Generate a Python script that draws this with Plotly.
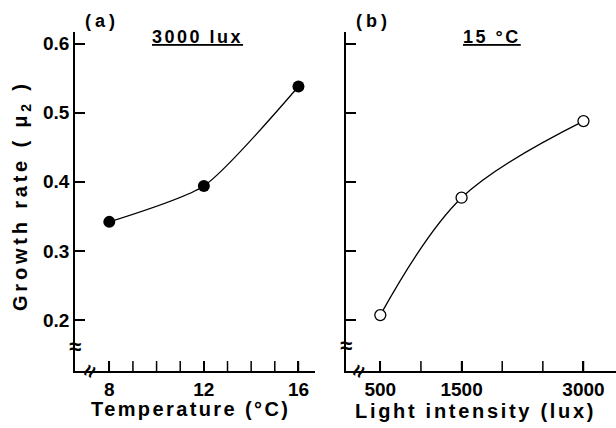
import plotly.graph_objects as go

# ---- data ----
temp_c = [8, 12, 16]
growth_temp = [0.342, 0.394, 0.538]
light_lux = [500, 1500, 3000]
growth_light = [0.207, 0.377, 0.488]

y_ticks = [0.2, 0.3, 0.4, 0.5, 0.6]
y_ticklabels = ["0.2", "0.3", "0.4", "0.5", "0.6"]
temp_ticks = [8, 9, 10, 11, 12, 13, 14, 15, 16]
temp_labelled = [8, 12, 16]
lux_ticks = [500, 1000, 1500, 2000, 2500, 3000]
lux_labelled = [500, 1500, 3000]

W, H = 616, 428
def px(x):
    return x / W
def py(y):
    return 1 - y / H

FONT = "Liberation Sans"
TICKLEN = 10
PLOT_H = 371 - 32

fig = go.Figure()
fig.add_trace(go.Scatter(
    x=temp_c, y=growth_temp, mode="lines+markers",
    line=dict(shape="spline", smoothing=0.6, color="black", width=1.3),
    marker=dict(size=12, color="black", symbol="circle"),
    xaxis="x", yaxis="y", showlegend=False))
fig.add_trace(go.Scatter(
    x=light_lux, y=growth_light, mode="lines+markers",
    line=dict(shape="spline", smoothing=1.0, color="black", width=1.3),
    marker=dict(size=11, color="white", symbol="circle",
                line=dict(color="black", width=1.3)),
    xaxis="x2", yaxis="y2", showlegend=False))

axis_common = dict(showline=True, linecolor="black", linewidth=1.8,
                   ticks="inside", ticklen=TICKLEN, tickwidth=1.5, tickcolor="black",
                   showgrid=False, zeroline=False,
                   tickfont=dict(family=FONT, size=19, color="black", weight="bold"))
ydom = [py(371), py(32)]
fig.update_layout(
    width=W, height=H,
    margin=dict(l=0, r=0, t=0, b=0),
    paper_bgcolor="white", plot_bgcolor="white",
    xaxis=dict(domain=[px(75), px(315)], range=[6.55, 16.7], anchor="y",
               tickmode="array", tickvals=temp_labelled,
               **axis_common),
    yaxis=dict(domain=ydom, range=[0.126, 0.617], anchor="x",
               tickmode="array", tickvals=y_ticks, ticktext=y_ticklabels,
               **axis_common),
    xaxis2=dict(domain=[px(346), 1.0], range=[78, 3400], anchor="y2",
                tickmode="array", tickvals=lux_labelled,
                **axis_common),
    yaxis2=dict(domain=ydom, range=[0.126, 0.617], anchor="x2",
                tickmode="array", tickvals=y_ticks, showticklabels=False,
                **axis_common),
)

# x tick marks (every degree / every 500 lux), placed on the axis scale
for v in temp_ticks:
    fig.add_shape(type="line", xref="x", yref="y domain", x0=v, x1=v,
                  y0=0, y1=TICKLEN / PLOT_H, line=dict(color="black", width=1.5))
for v in lux_ticks:
    fig.add_shape(type="line", xref="x2", yref="y2 domain", x0=v, x1=v,
                  y0=0, y1=TICKLEN / PLOT_H, line=dict(color="black", width=1.5))

def sp(text, ls):
    return f'<span style="letter-spacing:{ls}px">{text}</span>'

def ann(x, y, text, size, ls=0, angle=0):
    t = sp(text, ls) if ls else text
    fig.add_annotation(x=px(x), y=py(y), xref="paper", yref="paper",
                       text=t, showarrow=False, textangle=angle,
                       xanchor="center", yanchor="middle",
                       font=dict(family=FONT, size=size, color="black", weight="bold"))

ann(102, 21, "(a)", 18, 4)
ann(197, 37, "<u>3000 lux</u>", 18, 2.5)
ann(374, 21, "(b)", 18, 4)
ann(492, 37, "<u>15 °C</u>", 18, 2.5)
ann(190, 409, "Temperature (°C)", 20, 2.4)
ann(475, 411, "Light intensity (lux)", 20, 2.7)
ann(22, 196, "Growth rate ( μ<sub>2</sub> )", 20, 3.8, angle=-90)

# axis break marks
ann(75, 346, "≈", 22)
ann(346, 345, "≈", 22)
ann(89, 371, "≈", 22, angle=-65)
ann(358, 371, "≈", 22, angle=-65)

fig.write_html("out.html")
